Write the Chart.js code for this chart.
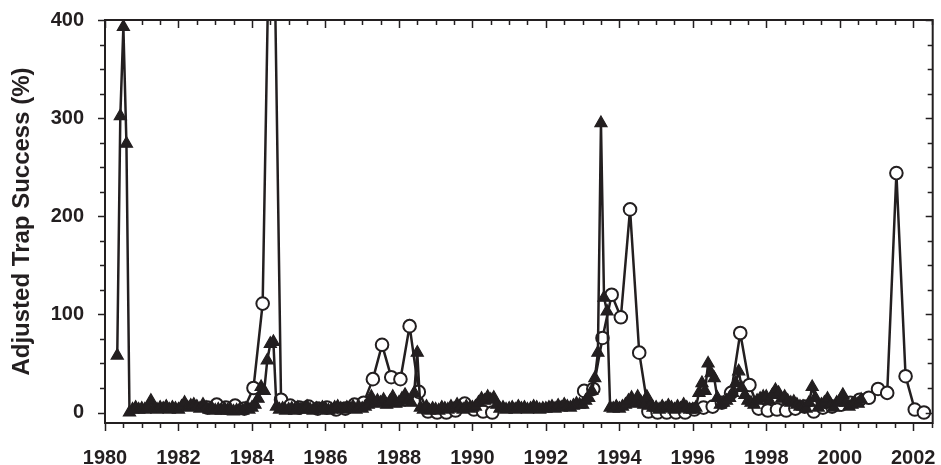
<!DOCTYPE html>
<html>
<head>
<meta charset="utf-8">
<script src="https://cdn.jsdelivr.net/npm/chart.js@4.4.0/dist/chart.umd.min.js"></script>
<style>
  body { margin: 0; background: #fff; }
</style>
</head>
<body>
<canvas id="trapChart" width="941" height="465"></canvas>
<script>
// Triangles: monthly values (Jan..Dec) per year
const triYears = [1980, 1981, 1982, 1983, 1984, 1985, 1986, 1987, 1988, 1989, 1990,
                  1991, 1992, 1993, 1994, 1995, 1996, 1997, 1998, 1999, 2000];
const triMonthly = [
  [null, null, null, null, 58, 302, 393, 274, 0, 3, 5, 3],
  [4, 3, 5, 12, 4, 3, 5, 4, 6, 3, 5, 4],
  [3, 6, 10, 5, 7, 8, 6, 4, 8, 5, 3, 4],
  [2, 3, 2, 4, 2, 3, 1, 2, 3, 2, 4, 3],
  [5, 8, 14, 26, 22, 53, 70, 72, 6, 3, 4, 2],
  [3, 4, 2, 5, 3, 4, 6, 3, 2, 4, 3, 5],
  [4, 2, 3, 5, 6, 4, 3, 5, 4, 6, 3, 5],
  [4, 6, 8, 16, 9, 12, 10, 13, 8, 11, 16, 9],
  [10, 14, 18, 12, 10, 20, 61, 5, 3, 6, 2, 4],
  [3, 2, 5, 4, 3, 6, 4, 8, 5, 3, 6, 4],
  [5, 6, 10, 14, 12, 16, 13, 15, 8, 4, 5, 3],
  [4, 5, 3, 6, 4, 5, 3, 4, 6, 5, 3, 4],
  [4, 5, 6, 4, 7, 5, 8, 6, 5, 7, 9, 8],
  [8, 12, 15, 22, 35, 61, 295, 117, 103, 5, 4, 6],
  [4, 6, 8, 12, 15, 9, 16, 11, 8, 16, 7, 5],
  [5, 3, 6, 4, 7, 5, 3, 6, 4, 8, 5, 3],
  [3, 5, 20, 30, 22, 50, 40, 35, 15, 8, 10, 12],
  [15, 20, 30, 42, 25, 18, 12, 10, 8, 12, 14, 16],
  [16, 12, 18, 23, 20, 14, 16, 12, 10, 11, 8, 6],
  [6, 4, 10, 26, 15, 5, 8, 10, 14, 8, 5, 10],
  [12, 18, 10, 6, 8, 10, 9, 13, null, null, null, null]
];

// Circles: quarterly values (Q1..Q4) per year
const circYears = [1982, 1983, 1984, 1985, 1986, 1987, 1988, 1989, 1990, 1991, 1992,
                   1993, 1994, 1995, 1996, 1997, 1998, 1999, 2000, 2001, 2002];
const circQuarterly = [
  [null, null, null, 5],
  [8, 5, 7, 4],
  [25, 111, 650, 13],
  [7, 5, 6, 4],
  [5, 3, 4, 8],
  [10, 34, 69, 36],
  [34, 88, 21, 1],
  [0, 0, 2, 9],
  [3, 1, 0, null],
  [null, null, null, null],
  [null, null, null, null],
  [22, 24, 76, 120],
  [97, 207, 61, 1],
  [0, 0, 0, 0],
  [3, 5, 6, 10],
  [20, 81, 28, 4],
  [2, 3, 2, 4],
  [6, 1, 5, 6],
  [8, 10, 13, 15],
  [24, 20, 244, 37],
  [3, 0, null, null]
];

const xTickLabels = [1980, 1982, 1984, 1986, 1988, 1990, 1992, 1994, 1996, 1998, 2000, 2002];
const yTickLabels = [0, 100, 200, 300, 400];

const ink = "#231f20";
const axisFont = { family: "'Liberation Sans', Arial, sans-serif", size: 20, weight: "bold" };

// monthly / quarterly rows -> {x: decimal year, y}
function monthlyPoints(years, rows) {
  const pts = [];
  years.forEach((yr, i) => rows[i].forEach((v, m) => pts.push({ x: yr + m / 12, y: v })));
  return pts;
}
function quarterlyPoints(years, rows) {
  const pts = [];
  years.forEach((yr, i) => rows[i].forEach((v, q) => pts.push({ x: yr + (3 * q + 0.5) / 12, y: v })));
  return pts;
}

// box frame + minor/major ticks (outside left/bottom, inside top/right)
const framePlugin = {
  id: "frame",
  afterDraw(chart) {
    const { ctx, chartArea: a, scales: { x, y } } = chart;
    ctx.save();
    ctx.strokeStyle = ink;
    ctx.lineWidth = 1.5;
    ctx.beginPath();
    for (let v = 0; v <= 400; v += 25) {
      const py = Math.round(y.getPixelForValue(v)) + 0.5;
      const len = v % 100 === 0 ? 7 : 5;
      ctx.moveTo(a.left - len, py); ctx.lineTo(a.left, py);
      ctx.moveTo(a.right, py); ctx.lineTo(a.right - len, py);
    }
    for (let t = 1980; t <= 2002.5; t += 0.5) {
      const px = Math.round(x.getPixelForValue(t)) + 0.5;
      const len = t % 2 === 0 ? 8 : 5;
      ctx.moveTo(px, a.bottom); ctx.lineTo(px, a.bottom + len);
      ctx.moveTo(px, a.top); ctx.lineTo(px, a.top + len);
    }
    ctx.stroke();
    ctx.lineWidth = 2;
    ctx.strokeRect(a.left, a.top, a.right - a.left, a.bottom - a.top);
    ctx.restore();
  }
};

const ctx = document.getElementById("trapChart").getContext("2d");

new Chart(ctx, {
  type: "line",
  data: {
    datasets: [
      {
        label: "Triangles",
        data: monthlyPoints(triYears, triMonthly),
        borderColor: ink,
        borderWidth: 2.5,
        pointStyle: "triangle",
        pointRadius: 7,
        pointBorderWidth: 1.2,
        pointBackgroundColor: ink,
        pointBorderColor: ink,
        tension: 0
      },
      {
        label: "Circles",
        data: quarterlyPoints(circYears, circQuarterly),
        borderColor: ink,
        borderWidth: 2.5,
        pointStyle: "circle",
        pointRadius: 6.3,
        pointBorderWidth: 2,
        pointBackgroundColor: "#fff",
        pointBorderColor: ink,
        tension: 0
      }
    ]
  },
  options: {
    responsive: false,
    animation: false,
    layout: { padding: { top: 20, right: 4, left: 0, bottom: 0 } },
    plugins: {
      legend: { display: false },
      tooltip: { enabled: false }
    },
    scales: {
      x: {
        type: "linear",
        min: 1980,
        max: 2002.53,
        grid: { display: false },
        border: { display: false },
        afterBuildTicks: (axis) => { axis.ticks = xTickLabels.map(v => ({ value: v })); },
        afterFit: (axis) => {
          axis.height = 42;
          axis.paddingLeft = 0;
          axis.paddingRight = 0;
        },
        ticks: {
          autoSkip: false,
          maxRotation: 0,
          padding: 15,
          color: ink,
          font: axisFont,
          callback: (v) => String(v)
        }
      },
      y: {
        min: -10.7,
        max: 400,
        grid: { display: false },
        border: { display: false },
        afterBuildTicks: (axis) => { axis.ticks = yTickLabels.map(v => ({ value: v })); },
        afterFit: (axis) => {
          axis.width = 105;
          axis.paddingTop = 0;
          axis.paddingBottom = 0;
        },
        ticks: { padding: 13, color: ink, font: axisFont },
        title: {
          display: true,
          text: "Adjusted Trap Success (%)",
          color: ink,
          font: { family: "'Liberation Sans', Arial, sans-serif", size: 24, weight: "bold" },
          padding: { top: 8, bottom: 0 }
        }
      }
    }
  },
  plugins: [framePlugin]
});
</script>
</body>
</html>
